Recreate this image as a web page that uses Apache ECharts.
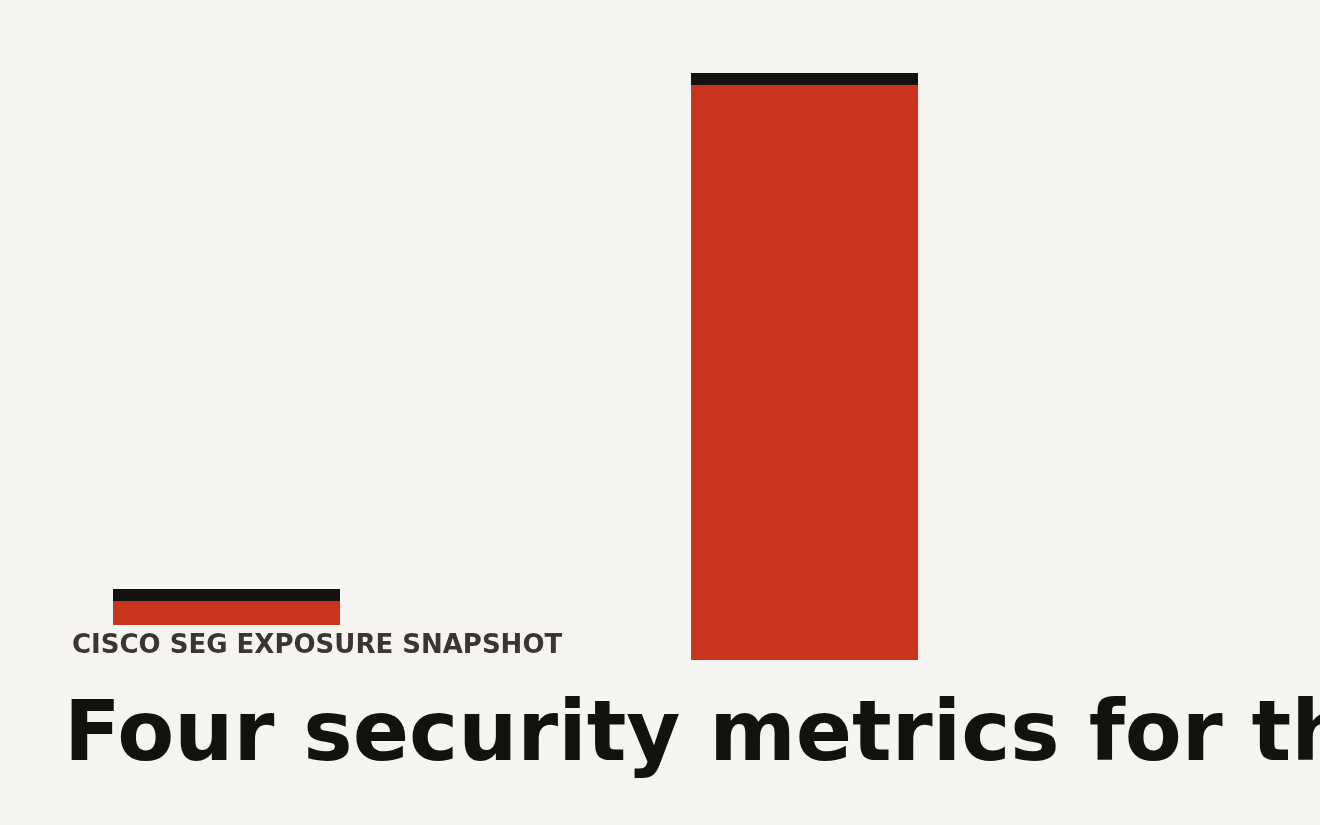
<!DOCTYPE html>
<html>
<head>
<meta charset="utf-8">
<script src="https://cdn.jsdelivr.net/npm/echarts@6/dist/echarts.min.js"></script>
<style>
html,body{margin:0;padding:0;background:#f5f4f0;}
#chart{width:1320px;height:825px;}
</style>
</head>
<body>
<div id="chart"></div>
<script>
const categories = ['Metric A', 'Metric B'];
const values = [12.1, 100];
const kicker = 'CISCO SEG EXPOSURE SNAPSHOT';
const headline = 'Four security metrics for the Cisco Secure Email Gateway exposure';

const BG = '#f5f4f0';
const RED = '#c9341f';
const INK = '#14120e';

const chart = echarts.init(document.getElementById('chart'), null, {renderer: 'canvas'});
chart.setOption({
  backgroundColor: BG,
  animation: false,
  title: [
    {
      text: kicker,
      left: 62,
      top: 625,
      padding: [8, 10, 8, 10],
      backgroundColor: BG,
      textStyle: {fontFamily: 'DejaVu Sans', fontWeight: 'bold', fontSize: 26, color: '#3a3733', lineHeight: 27}
    },
    {
      text: headline,
      left: 64,
      top: 693,
      padding: 0,
      textStyle: {fontFamily: 'DejaVu Sans', fontWeight: 'bold', fontSize: 83, color: INK, lineHeight: 90}
    }
  ],
  grid: {left: 226.5, right: 515.5, top: 73, bottom: 165, containLabel: false},
  xAxis: {type: 'category', data: categories, boundaryGap: false, show: false},
  yAxis: {type: 'value', min: 0, max: 100, show: false},
  series: [{
    type: 'custom',
    z: 2,
    clip: false,
    data: values.map((v, i) => [i, v]),
    encode: {x: 0, y: 1},
    renderItem: function (params, api) {
      const top = api.coord([api.value(0), api.value(1)]);
      const base = api.coord([api.value(0), 0]);
      const w = api.size([1, 0])[0] * 0.3927;
      const x = top[0] - w / 2;
      const cap = 12;
      return {
        type: 'group',
        children: [
          {type: 'rect', shape: {x: x, y: top[1], width: w, height: base[1] - top[1]}, style: {fill: RED}},
          {type: 'rect', shape: {x: x, y: top[1], width: w, height: cap}, style: {fill: INK}}
        ]
      };
    }
  }]
});
</script>
</body>
</html>
